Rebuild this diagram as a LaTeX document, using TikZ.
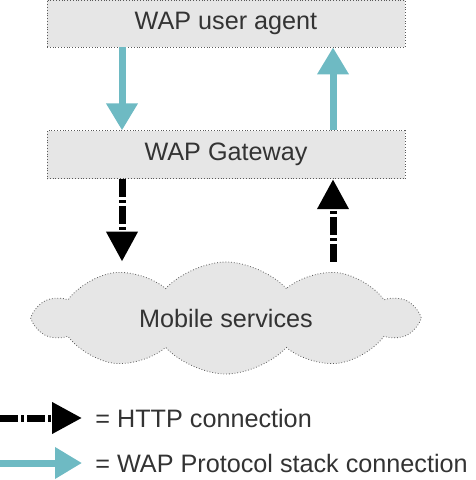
\documentclass[tikz,border=0pt]{standalone}
\usepackage{fontspec}
\setmainfont{Liberation Sans}
\usepackage{xcolor}
\usepackage{tikz}
\usetikzlibrary{positioning,shapes.symbols,arrows.meta}
\definecolor{wapteal}{RGB}{110,186,195}
\definecolor{boxfill}{RGB}{230,230,230}
\tikzset{
    layer/.style={
        rectangle,
        draw=black!65,
        densely dotted,
        fill=boxfill,
        text=black!80,
        text centered,
        minimum width=179pt,
        minimum height=24pt,
        font=\fontsize{12.6}{15}\selectfont
    },
    wap/.style={
        -{Triangle[width=15pt,length=13.5pt]},
        draw=wapteal,
        line width=3.5pt
    },
    http/.style={
        -{Triangle[width=15pt,length=15pt]},
        draw=black,
        line width=3.5pt,
        dash pattern=on 9pt off 1.5pt on 1.5pt off 1.5pt
    },
    key/.style={
        anchor=west,
        inner xsep=6.5pt,
        text=black!80,
        font=\fontsize{12.6}{15}\selectfont
    }
}

\begin{document}
\begin{tikzpicture}[x=0.5pt,y=-0.5pt]
    \useasboundingbox (0,0) rectangle (475,480);
    \node (agent) [layer, minimum height=23.5pt] at (226,23.5) {WAP user agent};
    \node (gateway) [layer, below=41.5pt of agent] {WAP Gateway};
    \node (services) [cloud, cloud puffs=10, cloud puff arc=95, aspect=3.4,
        draw=black!65, densely dotted, fill=boxfill, text=black!80,
        minimum width=190pt, minimum height=56pt, inner sep=0pt,
        font=\fontsize{12.6}{15}\selectfont] at (226,318) {Mobile services};
    % columns of the connectors
    \coordinate (down) at (122,0);
    \coordinate (up) at (333,0);
    \draw [wap] (agent.south -| down) -- (gateway.north -| down);
    \draw [wap] (gateway.north -| up) -- (agent.south -| up);
    \draw [http] (gateway.south -| down) -- (services.north -| down);
    \draw [http] (services.north -| up) -- (gateway.south -| up);
    % legend
    \node (httpkey) [key] at (82,418) {= HTTP connection};
    \node (wapkey) [key] at (82,463) {= WAP Protocol stack connection};
    \coordinate (httpstart) at (0,418);
    \coordinate (wapstart) at (0,463);
    \draw [http] (httpstart) -- (httpkey.west);
    \draw [wap] (wapstart) -- (wapkey.west);
\end{tikzpicture}
\end{document}
